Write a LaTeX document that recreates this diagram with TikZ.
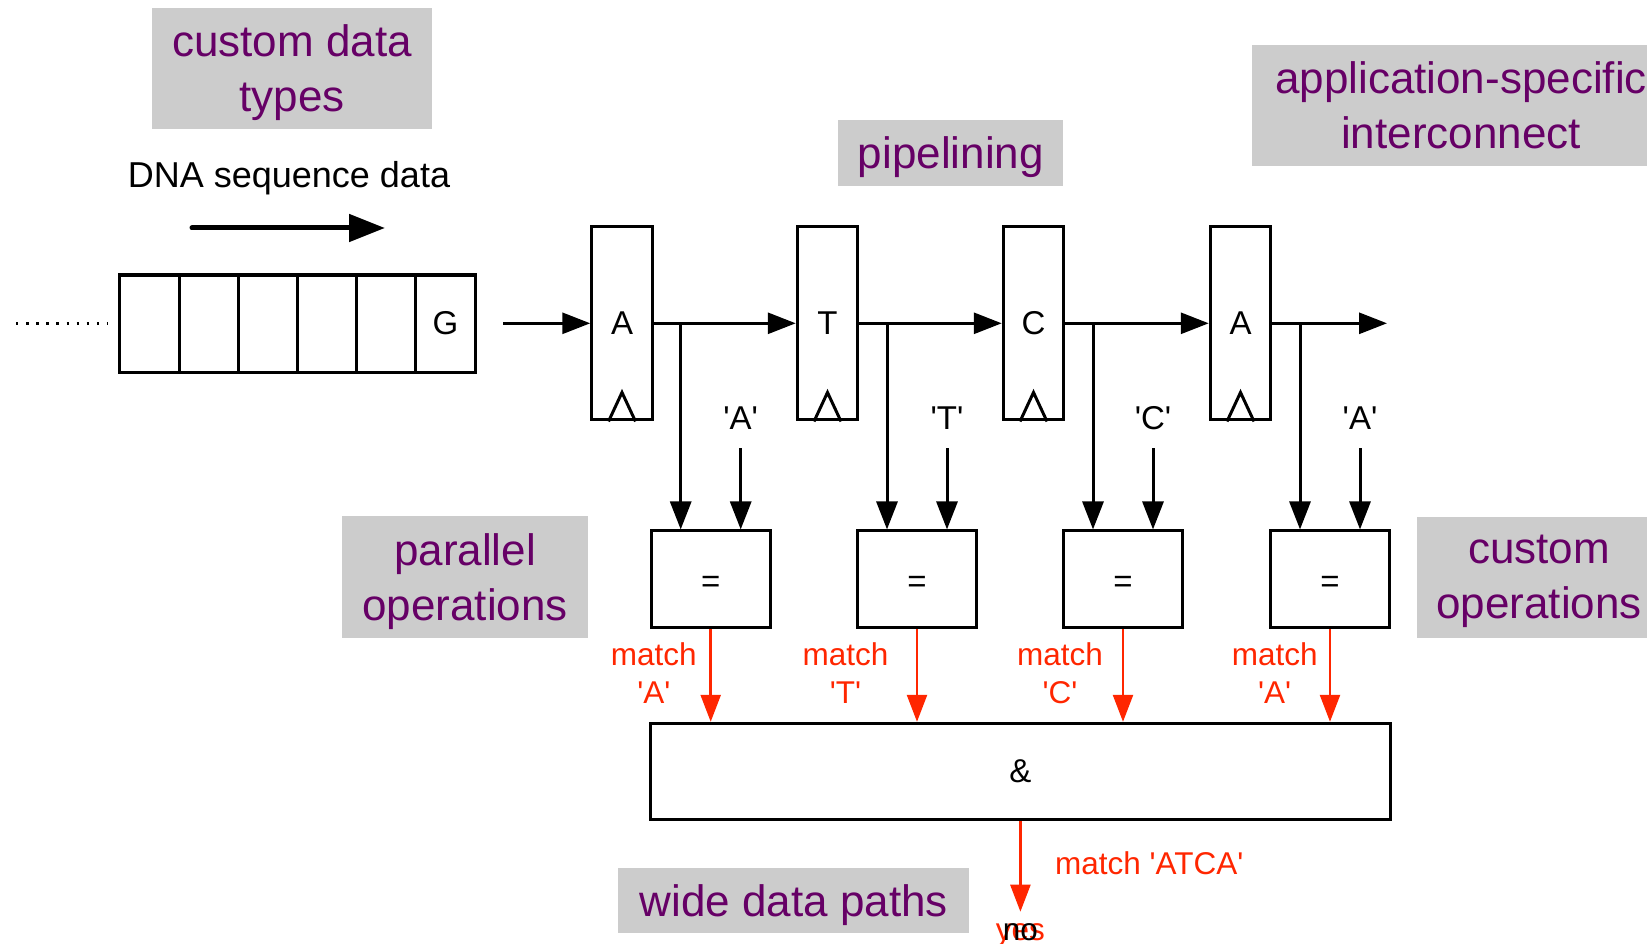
\documentclass[tikz,border=0pt]{standalone}
\usepackage{fontspec}
\setmainfont{Liberation Sans}
\newfontfamily\arial{Liberation Sans}
\usetikzlibrary{arrows.meta}
\definecolor{purp}{RGB}{102,0,102}
\definecolor{lab}{RGB}{204,204,204}
\definecolor{hot}{RGB}{255,38,0}
\tikzset{
  graybox/.style={fill=lab, inner sep=0pt, text=purp, align=center, text depth=0pt,
    font=\arial\fontsize{44}{55}\selectfont},
  cellbox/.style={draw, line width=3pt, minimum width=59.2pt, minimum height=97pt,
    inner sep=0pt, font=\arial\fontsize{33}{40}\selectfont},
  regbox/.style={draw, line width=3pt, minimum width=60.5pt, minimum height=193.3pt,
    inner sep=0pt, font=\arial\fontsize{33}{40}\selectfont},
  eqbox/.style={draw, line width=3pt, minimum width=119.3pt, minimum height=96.7pt,
    inner sep=0pt, font=\arial\fontsize{33}{40}\selectfont},
  andbox/.style={draw, line width=3pt, minimum width=739.3pt, minimum height=96pt,
    inner sep=0pt, font=\arial\fontsize{33}{40}\selectfont},
  constlab/.style={inner sep=0pt, font=\arial\fontsize{33}{40}\selectfont},
  redlab/.style={inner sep=0pt, text=hot, align=center, font=\arial\fontsize{31.5}{38}\selectfont},
  blk/.style={line width=3pt, -{Triangle[length=28pt,width=21pt]}},
  redarr/.style={draw=hot, line width=2.5pt, -{Triangle[length=27pt,width=20pt]}, fill=hot},
  clk/.style={line width=3pt, line join=miter},
}
\begin{document}
\begin{tikzpicture}[x=1pt, y=-1pt]
\useasboundingbox (0,0) rectangle (1647,944);
\clip (0,0) rectangle (1647,944);

% gray annotation boxes
\node[graybox, minimum width=280pt, minimum height=121pt] (cdt) at (292,68.5) {custom data\\types};
\node[graybox, minimum width=225pt, minimum height=66pt] (pipe) at (950.8,153) {pipelining};
\node[graybox, minimum width=418.6pt, minimum height=120.7pt] (asi) at (1461,105.3) {application-specific\\interconnect};
\node[graybox, minimum width=245.4pt, minimum height=121.7pt] (par) at (465,576.9) {parallel\\operations};
\node[graybox, minimum width=244.6pt, minimum height=121pt] (cop) at (1539,577.2) {custom\\operations};
\node[graybox, minimum width=351pt, minimum height=65.6pt] (wdp) at (793.8,900.5) {wide data paths};

% DNA sequence data
\node[inner sep=0pt, anchor=base, font=\arial\fontsize{36}{40}\selectfont] (dna) at (289,188) {DNA sequence data};
\coordinate (dnaA) at (192,228);
\coordinate (dnaB) at (385,228);
\draw[line width=5pt, line cap=round, -{Triangle[length=36pt,width=27pt]}] (dnaA) -- (dnaB);

% shift register
\foreach \i in {1,...,6} {
  \node[cellbox] (c\i) at ({120+59.17*(\i-0.5)},323.5) {};
}
\node[font=\arial\fontsize{33}{40}\selectfont, inner sep=0pt] (g) at (c6) {G};
\coordinate (dotA) at (16,323.3);
\coordinate (dotB) at (108,323.3);
\draw[line width=2.4pt, dash pattern=on 2.4pt off 7.7pt] (dotA) -- (dotB);

% registers
\node[regbox] (r1) at (622,323.3) {A};
\node[regbox] (r2) at (827.5,323.3) {T};
\node[regbox] (r3) at (1033.5,323.3) {C};
\node[regbox] (r4) at (1240.5,323.3) {A};
\foreach \r in {r1,r2,r3,r4} {
  \draw[clk] ([xshift=-13.5pt]\r.south) -- ([yshift=29pt]\r.south) -- ([xshift=13.5pt]\r.south);
}

% main data line
\coordinate (inp) at (503,323.3);
\coordinate (outp) at (1387,323.3);
\draw[blk] (inp) -- (r1.west);
\draw[blk] (r1.east) -- (r2.west);
\draw[blk] (r2.east) -- (r3.west);
\draw[blk] (r3.east) -- (r4.west);
\draw[blk] (r4.east) -- (outp);

% comparators
\node[eqbox, text height=27pt, text depth=0pt] (e1) at (710.7,579.3) {=};
\node[eqbox, text height=27pt, text depth=0pt] (e2) at (917,579.3) {=};
\node[eqbox, text height=27pt, text depth=0pt] (e3) at (1123,579.3) {=};
\node[eqbox, text height=27pt, text depth=0pt] (e4) at (1330,579.3) {=};

\foreach \k/\r/\t in {1/r1/'A',2/r2/'T',3/r3/'C',4/r4/'A'} {
  \coordinate (t\k) at ([xshift=-30pt]e\k.north);
  \coordinate (k\k) at ([xshift=30pt]e\k.north);
  \draw[blk] (t\k |- \r.east) -- (t\k);
  \node[constlab, anchor=center] (q\k) at ([yshift=111pt]k\k) {\t};
  \draw[blk] ([yshift=-18pt]q\k.south) -- (k\k);
}

% AND
\node[andbox] (and) at (1020.4,771.3) {\&};
\foreach \k in {1,...,4} {
  \draw[redarr] (e\k.south) -- (e\k.south |- and.north);
}
\node[redlab] (m1) at (653.8,672.9) {match\\'A'};
\node[redlab] (m2) at (845.6,672.9) {match\\'T'};
\node[redlab] (m3) at (1059.9,672.9) {match\\'C'};
\node[redlab] (m4) at (1274.7,672.9) {match\\'A'};

\coordinate (res) at (1020.4,911.7);
\draw[redarr] (and.south) -- (res);
\node[redlab, anchor=base west] (mall) at (1055,874.3) {match 'ATCA'};
\node[redlab, anchor=base] (yes) at (1020.4,940) {yes};
\node[inner sep=0pt, anchor=base, font=\arial\fontsize{31.5}{38}\selectfont] (no) at (1020.4,940) {no};
\end{tikzpicture}
\end{document}
